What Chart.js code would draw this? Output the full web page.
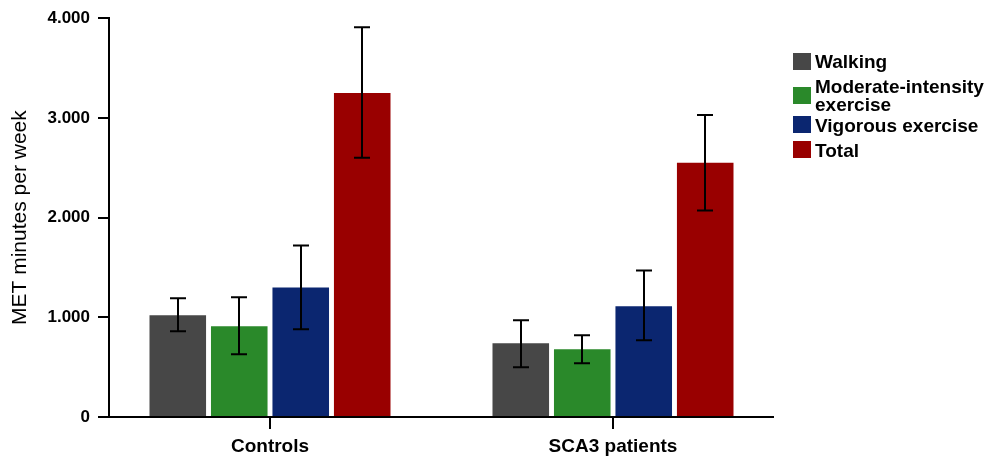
<!DOCTYPE html>
<html>
<head>
<meta charset="utf-8">
<script src="https://cdn.jsdelivr.net/npm/chart.js@4.4.1/dist/chart.umd.min.js"></script>
<style>
  html, body { margin: 0; padding: 0; background: #fff; }
  #wrap { position: relative; width: 988px; height: 458px; }
</style>
</head>
<body>
<div id="wrap"><canvas id="chart" width="988" height="458"></canvas></div>
<script>
// Groups on the x axis and the four activity series (MET minutes per week)
const groups = ['Controls', 'SCA3 patients'];
const groupPos = [0, 1];
const seriesNames = [['Walking'], ['Moderate-intensity', 'exercise'], ['Vigorous exercise'], ['Total']];
const seriesColors = ['#474747', '#2a892a', '#0b2670', '#990000'];

const walking = [1020, 740];
const moderate = [910, 680];
const vigorous = [1300, 1110];
const total = [3250, 2550];

// error bar ends (upper / lower)
const walkingErr = [[1190, 860], [970, 500]];
const moderateErr = [[1200, 630], [820, 540]];
const vigorousErr = [[1720, 880], [1470, 770]];
const totalErr = [[3910, 2600], [3030, 2070]];

const yTicks = [0, 1000, 2000, 3000, 4000];

const values = [walking, moderate, vigorous, total];
const errors = [walkingErr, moderateErr, vigorousErr, totalErr];

const font = 'Liberation Sans, Arial, sans-serif';

// Draw black whiskers on each bar
const errorBars = {
  id: 'errorBars',
  afterDatasetsDraw(chart) {
    const ctx = chart.ctx;
    const yScale = chart.scales.y;
    ctx.save();
    ctx.strokeStyle = '#000';
    ctx.lineWidth = 2;
    chart.data.datasets.forEach((ds, di) => {
      const meta = chart.getDatasetMeta(di);
      meta.data.forEach((bar, i) => {
        const hi = yScale.getPixelForValue(ds.err[i][0]);
        const lo = yScale.getPixelForValue(ds.err[i][1]);
        const x = Math.round(bar.x);
        ctx.beginPath();
        ctx.moveTo(x, hi); ctx.lineTo(x, lo);
        ctx.moveTo(x - 8, hi); ctx.lineTo(x + 8, hi);
        ctx.moveTo(x - 8, lo); ctx.lineTo(x + 8, lo);
        ctx.stroke();
      });
    });
    ctx.restore();
  }
};

// Legend on the right, with wrapped labels
const sideLegend = {
  id: 'sideLegend',
  afterDraw(chart) {
    const ctx = chart.ctx;
    ctx.save();
    ctx.font = 'bold 19px ' + font;
    ctx.textBaseline = 'alphabetic';
    ctx.textAlign = 'left';
    let y = 68;
    chart.data.datasets.forEach(ds => {
      const lines = ds.lines;
      const n = lines.length;
      const mid = y - 7 + (n - 1) * 9;
      ctx.fillStyle = ds.backgroundColor;
      ctx.fillRect(793, Math.round(mid - 8.5), 18, 17);
      ctx.fillStyle = '#000';
      lines.forEach((t, k) => ctx.fillText(t, 815, y + k * 18));
      y += (n - 1) * 18 + (n > 1 ? 20.5 : 25);
    });
    ctx.restore();
  }
};

const datasets = values.map((vals, i) => ({
  label: seriesNames[i].join(' '),
  lines: seriesNames[i],
  data: groupPos.map((x, j) => ({ x: x, y: vals[j] })),
  err: errors[i],
  backgroundColor: seriesColors[i],
  borderWidth: 0,
  categoryPercentage: 0.717,
  barPercentage: 0.92
}));

new Chart(document.getElementById('chart'), {
  type: 'bar',
  data: { datasets: datasets },
  options: {
    responsive: false,
    animation: false,
    layout: { padding: { top: 17, right: 215, left: 0, bottom: 0 } },
    plugins: { legend: { display: false }, tooltip: { enabled: false } },
    scales: {
      x: {
        type: 'linear',
        position: 'bottom',
        min: -0.4694,
        max: 1.4665,
        offset: false,
        afterBuildTicks: s => { s.ticks = groupPos.map(v => ({ value: v })); },
        afterFit: s => { s.height = 41; },
        grid: { offset: false, drawOnChartArea: false, tickLength: 12, color: '#000', lineWidth: 2 },
        border: { display: true, color: '#000', width: 2 },
        ticks: {
          autoSkip: false,
          maxRotation: 0,
          padding: 6,
          color: '#000',
          font: { family: font, size: 19, weight: 'bold' },
          callback: v => groups[groupPos.indexOf(v)]
        }
      },
      y: {
        min: 0,
        max: 4000,
        afterBuildTicks: s => { s.ticks = yTicks.map(v => ({ value: v })); },
        afterFit: s => { s.width = 109; },
        grid: { drawOnChartArea: false, tickLength: 11, color: '#000', lineWidth: 2 },
        border: { display: true, color: '#000', width: 2 },
        ticks: {
          padding: 8,
          color: '#000',
          font: { family: font, size: 17, weight: 'bold' },
          callback: v => v === 0 ? '0' : (v / 1000) + '.000'
        },
        title: {
          display: true,
          text: 'MET minutes per week',
          color: '#000',
          font: { family: font, size: 21 },
          padding: { top: 8, bottom: 0 }
        }
      }
    }
  },
  plugins: [errorBars, sideLegend]
});
</script>
</body>
</html>
